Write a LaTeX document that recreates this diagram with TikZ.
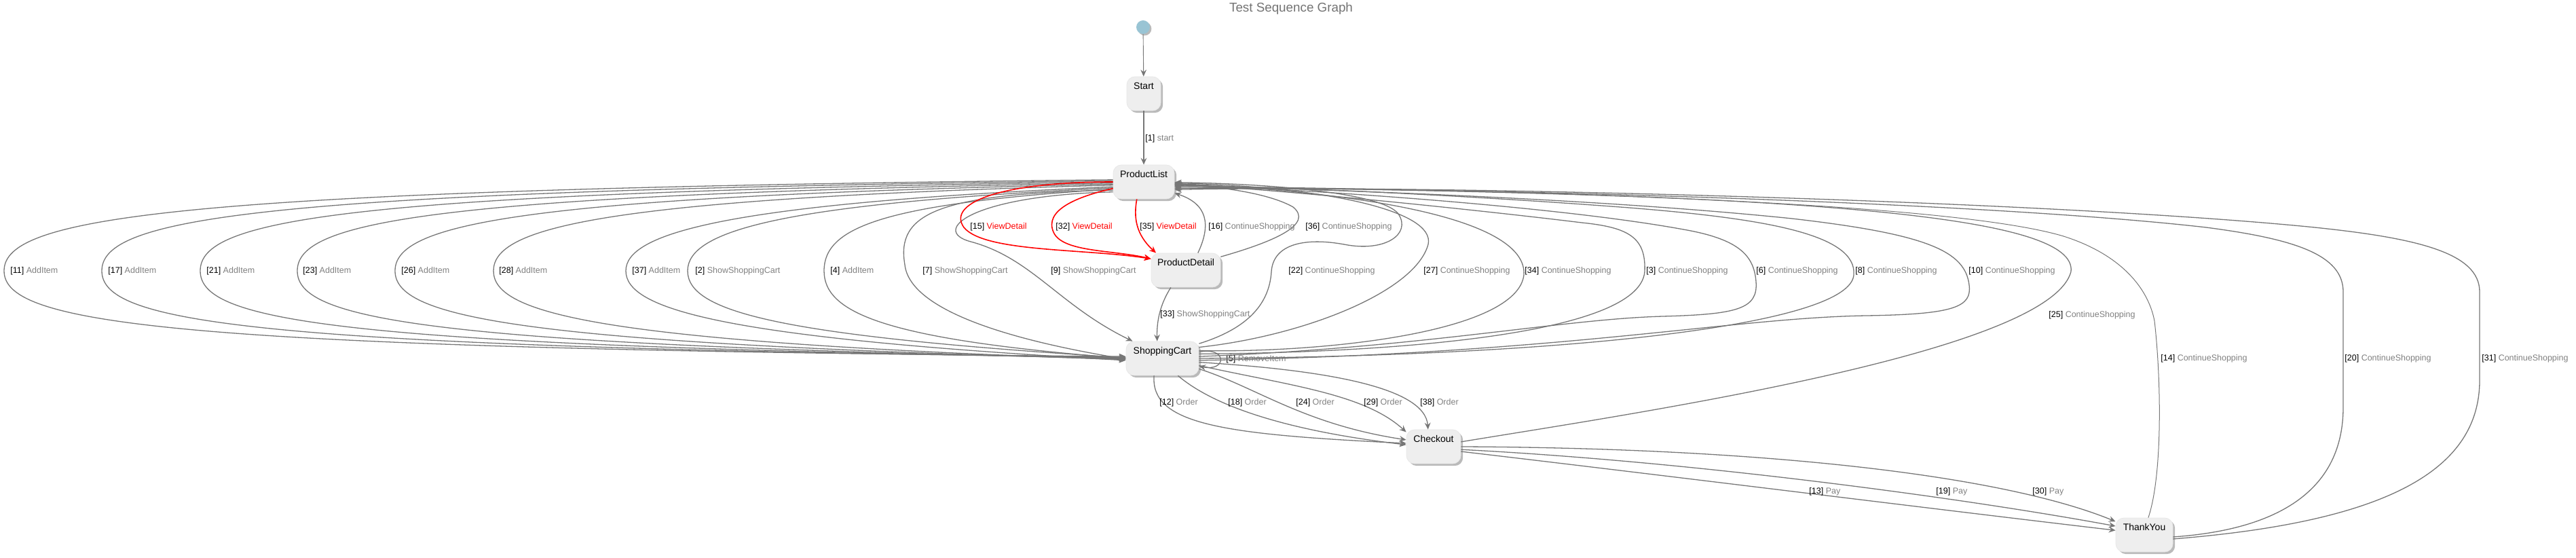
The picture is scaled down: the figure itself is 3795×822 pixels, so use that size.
\documentclass[tikz,border=0pt]{standalone}
\usepackage{fontspec}
\setmainfont{Liberation Sans}
\usetikzlibrary{arrows.meta,shadows}
\definecolor{edgegray}{RGB}{118,118,118}
\definecolor{namegray}{RGB}{128,128,128}
\definecolor{boxfill}{RGB}{238,238,238}
\definecolor{initblue}{RGB}{153,196,212}
\newcommand{\tname}[1]{\textcolor{namegray}{#1}}
\newcommand{\tred}[1]{\textcolor{red}{#1}}

\begin{document}
\begin{tikzpicture}[x=0.5pt,y=-0.5pt,
  statebox/.style={rectangle,rounded corners=6pt,fill=boxfill,draw=black!9,line width=.4pt,inner xsep=0pt,inner ysep=0pt,text height=9.5pt,text depth=15.5pt,font=\fontsize{7}{8}\selectfont,drop shadow={shadow xshift=1.6pt,shadow yshift=-1.6pt,fill=black!45,opacity=.6}},
  trans/.style={draw=edgegray,line width=.65pt,-{Stealth[length=5pt,width=4.4pt,inset=1.8pt]}},
  redtrans/.style={trans,draw=red,line width=.8pt},
  tlabel/.style={anchor=west,inner sep=0pt,font=\fontsize{6.25}{7}\selectfont}]
	\useasboundingbox (0,0) rectangle (3795,822);
	
	\node[text=black!55,font=\fontsize{9.4}{11}\selectfont] (title) at (1902,13) {Test Sequence Graph};
	
	\node[circle,fill=initblue,inner sep=0pt,minimum size=10pt,drop shadow={shadow xshift=1.2pt,shadow yshift=-1.2pt,fill=black!45,opacity=.6}] (init) at (1684,40) {};
	\node[statebox,minimum width=25pt] (start) at (1685,138) {Start};
	\node[statebox,minimum width=45pt] (plist) at (1685,268) {ProductList};
	\node[statebox,minimum width=51pt] (pdetail) at (1747,398) {ProductDetail};
	\node[statebox,minimum width=53.5pt] (scart) at (1712.5,528) {ShoppingCart};
	\node[statebox,minimum width=40pt] (checkout) at (2112,658) {Checkout};
	\node[statebox,minimum width=42pt] (thankyou) at (3159,788) {ThankYou};
	
	\draw[trans,line width=.45pt] (init) -- (start);
	\draw[trans] (start) -- (plist); \node[tlabel] (l1) at (1687,204) {[1] \tname{start}};
	
	\draw[trans] (plist.176) .. controls (250,279) and (6,320) .. (6,399) .. controls (6,478) and (250,514) .. (scart.177);
	\node[tlabel] (l11) at (15,399) {[11] \tname{AddItem}};
	\draw[trans] (plist.178) .. controls (370,281) and (150,322) .. (150,399) .. controls (150,476) and (370,512) .. (scart.178);
	\node[tlabel] (l17) at (159,399) {[17] \tname{AddItem}};
	\draw[trans] (plist.180) .. controls (490,284) and (295,325) .. (295,399) .. controls (295,473) and (490,510) .. (scart.179);
	\node[tlabel] (l21) at (304,399) {[21] \tname{AddItem}};
	\draw[trans] (plist.182) .. controls (620,287) and (438,328) .. (438,399) .. controls (438,470) and (620,508) .. (scart.180);
	\node[tlabel] (l23) at (446,399) {[23] \tname{AddItem}};
	\draw[trans] (plist.184) .. controls (750,290) and (582,332) .. (582,399) .. controls (582,466) and (750,506) .. (scart.181);
	\node[tlabel] (l26) at (591,399) {[26] \tname{AddItem}};
	\draw[trans] (plist.186) .. controls (880,293) and (727,336) .. (727,399) .. controls (727,462) and (880,504) .. (scart.182);
	\node[tlabel] (l28) at (735,399) {[28] \tname{AddItem}};
	\draw[trans] (plist.189) .. controls (1060,300) and (922,345) .. (922,399) .. controls (922,455) and (1060,498) .. (scart.183);
	\node[tlabel] (l37) at (931,399) {[37] \tname{AddItem}};
	\draw[trans] (plist.191) .. controls (1150,300) and (1013,340) .. (1013,399) .. controls (1013,460) and (1150,495) .. (scart.179);
	\node[tlabel] (l2) at (1024,399) {[2] \tname{ShowShoppingCart}};
	\draw[trans] (plist.193) .. controls (1300,300) and (1214,335) .. (1214,399) .. controls (1214,460) and (1300,500) .. (scart.180);
	\node[tlabel] (l4) at (1223,399) {[4] \tname{AddItem}};
	\draw[trans] (plist.195) .. controls (1380,285) and (1320,315) .. (1333,390) .. controls (1340,455) and (1480,500) .. (scart.181);
	\node[tlabel] (l7) at (1359,399) {[7] \tname{ShowShoppingCart}};
	\draw[trans] (plist.198) .. controls (1430,288) and (1370,340) .. (1430,356) .. controls (1520,380) and (1560,450) .. (scart.150);
	\node[tlabel] (l9) at (1548,399) {[9] \tname{ShowShoppingCart}};
	
	\draw[redtrans] (plist.180) .. controls (1470,268) and (1395,300) .. (1420,335) .. controls (1450,372) and (1600,366) .. (pdetail.162);
	\node[tlabel] (l15) at (1429,334) {[15] \tred{ViewDetail}};
	\draw[redtrans] (plist.192) .. controls (1585,290) and (1538,310) .. (1552,342) .. controls (1565,372) and (1640,368) .. (pdetail.162);
	\node[tlabel] (l32) at (1555,334) {[32] \tred{ViewDetail}};
	\draw[redtrans] (plist.248) .. controls (1670,320) and (1673,345) .. (pdetail.150);
	\node[tlabel] (l35) at (1679,334) {[35] \tred{ViewDetail}};
	
	\draw[trans] (pdetail.55) .. controls (1785,330) and (1778,300) .. (plist.-20);
	\node[tlabel] (l16) at (1780,334) {[16] \tname{ContinueShopping}};
	\draw[trans] (pdetail.21) .. controls (1880,355) and (1935,330) .. (1905,305) .. controls (1870,285) and (1800,275) .. (plist.-4);
	\node[tlabel] (l36) at (1923,334) {[36] \tname{ContinueShopping}};
	\draw[trans] (pdetail.229) .. controls (1708,450) and (1704,475) .. (scart.107);
	\node[tlabel] (l33) at (1709,463) {[33] \tname{ShowShoppingCart}};
	
	\draw[trans] (scart.10) .. controls (1808,510) and (1808,548) .. (scart.-12);
	\node[tlabel] (l5) at (1806,529) {[5] \tname{RemoveItem}};
	
	\draw[trans] (scart.22) .. controls (1835,485) and (1870,450) .. (1873,400) .. controls (1876,358) and (1925,350) .. (1980,360) .. controls (2040,372) and (2080,345) .. (2060,315) .. controls (2035,282) and (1850,270) .. (plist.-1);
	\node[tlabel] (l22) at (1898,399) {[22] \tname{ContinueShopping}};
	\draw[trans] (scart.17) .. controls (1920,495) and (2085,430) .. (2104,360) .. controls (2115,310) and (1950,275) .. (plist.-2);
	\node[tlabel] (l27) at (2097,399) {[27] \tname{ContinueShopping}};
	\draw[trans] (scart.12) .. controls (1950,520) and (2235,490) .. (2245,405) .. controls (2250,330) and (2050,285) .. (plist.-3);
	\node[tlabel] (l34) at (2246,399) {[34] \tname{ContinueShopping}};
	\draw[trans] (scart.7) .. controls (2000,520) and (2415,500) .. (2423,400) .. controls (2425,350) and (2400,335) .. (2330,328) .. controls (2200,312) and (1900,280) .. (plist.-4);
	\node[tlabel] (l3) at (2425,399) {[3] \tname{ContinueShopping}};
	\draw[trans] (scart.3) .. controls (2100,512) and (2300,470) .. (2450,466) .. controls (2560,463) and (2590,455) .. (2587,415) .. controls (2584,375) and (2560,352) .. (2480,338) .. controls (2300,305) and (1950,280) .. (plist.-5);
	\node[tlabel] (l6) at (2587,399) {[6] \tname{ContinueShopping}};
	\draw[trans] (scart.0) .. controls (2300,525) and (2725,480) .. (2731,405) .. controls (2736,345) and (2600,322) .. (2400,306) .. controls (2150,287) and (1900,276) .. (plist.-6);
	\node[tlabel] (l8) at (2733,399) {[8] \tname{ContinueShopping}};
	\draw[trans] (scart.-3) .. controls (2300,522) and (2550,468) .. (2750,465) .. controls (2880,463) and (2905,452) .. (2901,420) .. controls (2895,370) and (2840,345) .. (2640,322) .. controls (2350,292) and (1950,279) .. (plist.-7);
	\node[tlabel] (l10) at (2900,399) {[10] \tname{ContinueShopping}};
	
	\draw[trans] (scart.244) .. controls (1695,625) and (1800,640) .. (checkout.173);
	\node[tlabel] (l12) at (1708,593) {[12] \tname{Order}};
	\draw[trans] (scart.-48) .. controls (1790,600) and (1900,635) .. (checkout.176);
	\node[tlabel] (l18) at (1809,593) {[18] \tname{Order}};
	\draw[trans] (scart.-16) .. controls (1850,570) and (1920,625) .. (checkout.166);
	\node[tlabel] (l24) at (1909,593) {[24] \tname{Order}};
	\draw[trans] (scart.-11) .. controls (1900,568) and (2010,580) .. (checkout.152);
	\node[tlabel] (l29) at (2009,593) {[29] \tname{Order}};
	\draw[trans] (scart.-6) .. controls (1950,545) and (2100,570) .. (checkout.108);
	\node[tlabel] (l38) at (2092,593) {[38] \tname{Order}};
	
	\draw[trans] (checkout.10) .. controls (2400,610) and (3020,520) .. (3051,400) .. controls (3060,320) and (2700,285) .. (plist.-8);
	\node[tlabel] (l25) at (3018,464) {[25] \tname{ContinueShopping}};
	
	\draw[trans] (checkout.-10) .. controls (2450,700) and (2850,750) .. (thankyou.171);
	\node[tlabel] (l13) at (2665,724) {[13] \tname{Pay}};
	\draw[trans] (checkout.-6) .. controls (2500,680) and (2900,735) .. (thankyou.163);
	\node[tlabel] (l19) at (2852,724) {[19] \tname{Pay}};
	\draw[trans] (checkout.0) .. controls (2600,660) and (2950,700) .. (thankyou.155);
	\node[tlabel] (l30) at (2994,724) {[30] \tname{Pay}};
	
	\draw[trans,line width=.5pt] (thankyou.77) .. controls (3186,700) and (3184,560) .. (3174,473) .. controls (3165,425) and (3125,375) .. (3040,348) .. controls (2880,300) and (2300,280) .. (plist.-10);
	\node[tlabel] (l14) at (3183,528) {[14] \tname{ContinueShopping}};
	\draw[trans] (thankyou.-4) .. controls (3360,780) and (3452,720) .. (3452,600) -- (3452,430) .. controls (3452,375) and (3380,352) .. (3250,335) .. controls (2900,295) and (2100,275) .. (plist.-12);
	\node[tlabel] (l20) at (3454,528) {[20] \tname{ContinueShopping}};
	\draw[trans] (thankyou.-8) .. controls (3500,770) and (3653,700) .. (3653,560) -- (3653,430) .. controls (3653,372) and (3560,350) .. (3400,334) .. controls (3000,295) and (2100,272) .. (plist.-14);
	\node[tlabel] (l31) at (3656,528) {[31] \tname{ContinueShopping}};
\end{tikzpicture}
\end{document}
